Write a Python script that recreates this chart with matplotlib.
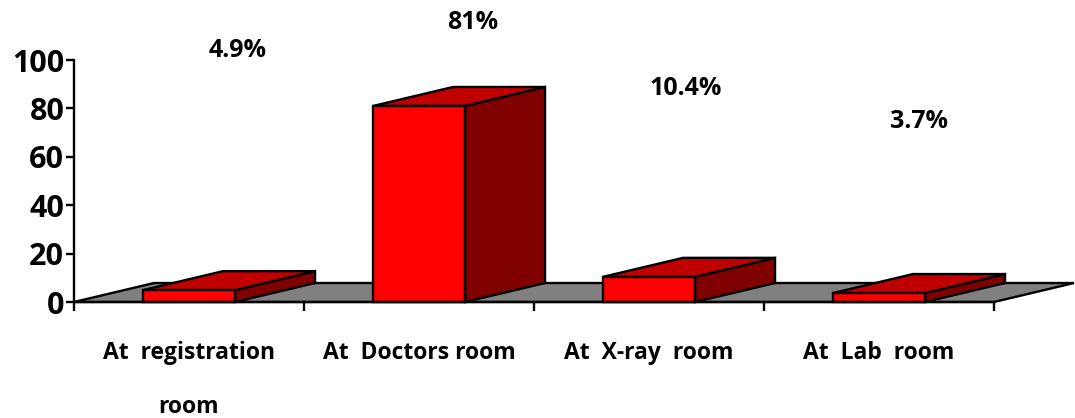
import numpy as np
import matplotlib
matplotlib.use('Agg')
import matplotlib.pyplot as plt
from matplotlib.patches import Polygon, Rectangle

plt.rcParams['font.family'] = ['Open Sans', 'DejaVu Sans']

# where patients waited longest (% of respondents)
places = ['At  registration\nroom', 'At  Doctors room', 'At  X-ray  room', 'At  Lab  room']
share = [4.9, 81, 10.4, 3.7]
share_text = ['4.9%', '81%', '10.4%', '3.7%']
yticks = [0, 20, 40, 60, 80, 100]

# 3-D look: depth offset of every box, in axis units
DX, DY = 0.348, 7.85
BAR_W = 0.4
FRONT, TOP, SIDE = '#FF0000', '#C00000', '#800000'
FLOOR = '#808080'
LW = 1.7

fig = plt.figure(figsize=(10.75, 4.18), dpi=100)
ax = fig.add_axes([74 / 1075, 116 / 418, 920 / 1075, 242 / 418])
ax.set_xlim(0, len(places))
ax.set_ylim(0, 100)

n = len(places)
floor = Polygon([(0, 0), (n, 0), (n + DX, DY), (DX, DY)], closed=True,
                facecolor=FLOOR, edgecolor='black', lw=LW, clip_on=False, zorder=1)
ax.add_patch(floor)

for i, v in enumerate(share):
    x0 = i + 0.5 - BAR_W / 2
    x1 = x0 + BAR_W
    side = Polygon([(x1, 0), (x1 + DX, DY), (x1 + DX, v + DY), (x1, v)],
                   closed=True, facecolor=SIDE, edgecolor='black', lw=LW,
                   joinstyle='miter', clip_on=False, zorder=2)
    top = Polygon([(x0, v), (x1, v), (x1 + DX, v + DY), (x0 + DX, v + DY)],
                  closed=True, facecolor=TOP, edgecolor='black', lw=LW,
                  joinstyle='miter', clip_on=False, zorder=2)
    front = Rectangle((x0, 0), BAR_W, v, facecolor=FRONT, edgecolor='black',
                      lw=LW, joinstyle='miter', clip_on=False, zorder=3)
    for p in (side, top, front):
        ax.add_patch(p)

# percentage labels sit loosely above each column
label_xy = [(0.713, 104.1), (1.735, 115.7), (2.661, 88.4), (3.674, 74.4)]
for (lx, ly), t in zip(label_xy, share_text):
    ax.text(lx, ly, t, ha='center', va='center', fontsize=18,
            fontweight='bold', clip_on=False)

ax.set_yticks(yticks)
ax.set_yticklabels([str(t) for t in yticks], fontsize=22, fontweight='bold')
ax.tick_params(axis='y', direction='out', length=6, width=LW, pad=1)

ax.set_xticks(np.arange(n + 1))
ax.set_xticklabels([])
ax.set_xticks(np.arange(n) + 0.5, minor=True)
ax.set_xticklabels(places, minor=True, fontsize=16.5, fontweight='bold',
                   linespacing=2.7, va='top')
ax.tick_params(axis='x', which='major', direction='out', length=6.5, width=LW)
ax.tick_params(axis='x', which='minor', length=0, pad=28)

for s in ('top', 'right'):
    ax.spines[s].set_visible(False)
ax.spines['left'].set_linewidth(LW)
ax.spines['bottom'].set_linewidth(LW)
ax.spines['bottom'].set_zorder(4)
ax.patch.set_visible(False)

fig.savefig('out.png', dpi=100)
